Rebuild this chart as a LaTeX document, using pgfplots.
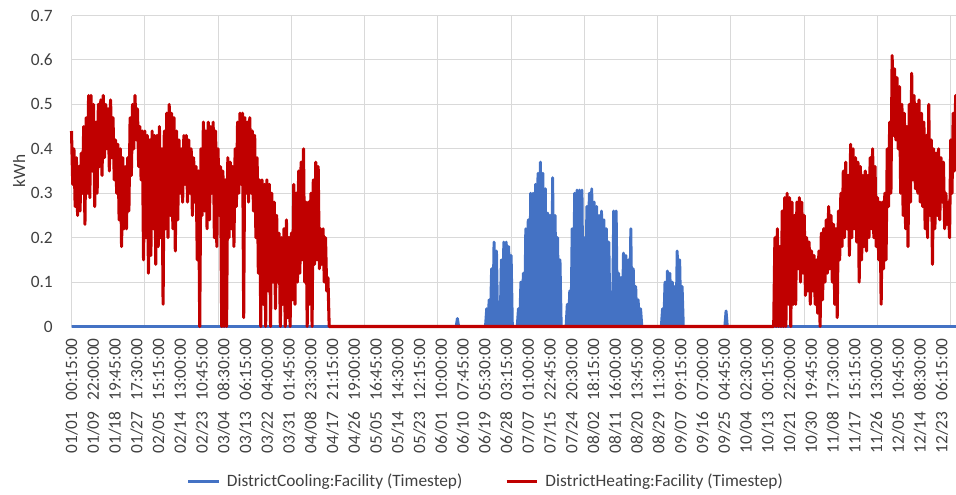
\documentclass[border=0pt]{standalone}
\usepackage{fontspec}
\setmainfont{Carlito}
\usepackage{pgfplots}
\pgfplotsset{compat=1.18}
\definecolor{cool}{HTML}{4472C4}
\definecolor{heat}{HTML}{C00000}
\definecolor{gridc}{HTML}{D9D9D9}
\definecolor{txt}{HTML}{404040}
\newcommand{\gp}{\hspace{0.65em}}
\begin{document}
\begin{tikzpicture}
\useasboundingbox (0,0) rectangle (717pt,370.5pt);
\begin{axis}[
  at={(53.625pt,125.625pt)}, anchor=south west,
  scale only axis, width=668.6pt, height=233.25pt,
  xmin=0, xmax=365, ymin=0, ymax=0.7,
  clip=false,
  axis line style={draw=none},
  major tick length=0pt,
  ytick={0,0.1,0.2,0.3,0.4,0.5,0.6,0.7},
  yticklabels={0,0.1,0.2,0.3,0.4,0.5,0.6,0.7},
  ymajorgrids,
  major grid style={gridc, line width=0.75pt},
  xtick={0.010,8.917,17.823,26.729,35.635,44.542,53.448,62.354,71.260,80.167,89.073,97.979,106.885,115.792,124.698,133.604,142.510,151.417,160.323,169.229,178.135,187.042,195.948,204.854,213.760,222.667,231.573,240.479,249.385,258.292,267.198,276.104,285.010,293.917,302.823,311.729,320.635,329.542,338.448,347.354,356.260},
  xticklabels={01/01\gp00:15:00,01/09\gp22:00:00,01/18\gp19:45:00,01/27\gp17:30:00,02/05\gp15:15:00,02/14\gp13:00:00,02/23\gp10:45:00,03/04\gp08:30:00,03/13\gp06:15:00,03/22\gp04:00:00,03/31\gp01:45:00,04/08\gp23:30:00,04/17\gp21:15:00,04/26\gp19:00:00,05/05\gp16:45:00,05/14\gp14:30:00,05/23\gp12:15:00,06/01\gp10:00:00,06/10\gp07:45:00,06/19\gp05:30:00,06/28\gp03:15:00,07/07\gp01:00:00,07/15\gp22:45:00,07/24\gp20:30:00,08/02\gp18:15:00,08/11\gp16:00:00,08/20\gp13:45:00,08/29\gp11:30:00,09/07\gp09:15:00,09/16\gp07:00:00,09/25\gp04:45:00,10/04\gp02:30:00,10/13\gp00:15:00,10/21\gp22:00:00,10/30\gp19:45:00,11/08\gp17:30:00,11/17\gp15:15:00,11/26\gp13:00:00,12/05\gp10:45:00,12/14\gp08:30:00,12/23\gp06:15:00},
  extra x ticks={0,30,60,90,120,150,180,210,240,270,300,330,360},
  extra x tick labels={},
  extra x tick style={grid=major},
  tick label style={font=\fontsize{13}{15}\selectfont, text=txt},
  xticklabel style={rotate=90, anchor=east, inner sep=0pt},
  xticklabel shift=8.6pt,
  yticklabel style={anchor=east, inner sep=0pt, xshift=-13.9pt},
  ylabel={kWh},
  ylabel style={at={(axis description cs:-0.0589,0.5)}, anchor=center, font=\fontsize{13}{15}\selectfont, text=txt},
  legend columns=2,
  legend style={at={(axis description cs:0.465,-0.497)}, anchor=center, draw=none, fill=none,
    font=\fontsize{13}{15}\selectfont, text=txt,
    /tikz/every odd column/.append style={column sep=3pt},
    /tikz/every even column/.append style={column sep=30pt}},
  legend image code/.code={\draw[#1] (0pt,0pt) -- (23pt,0pt);},
]
\addplot[cool, line width=2.2pt, line join=round] table[row sep=\\] {x y\\
0 0\\157.5 0\\158 0.018\\158.5 0\\169.5 0\\
170 0.04\\170.5 0\\171 0.06\\171.5 0\\172 0.13\\172.5 0\\173 0.19\\173.5 0\\174 0.17\\174.5 0\\175 0.05\\175.5 0\\176 0.15\\176.5 0\\177 0.19\\177.5 0\\178 0.19\\178.5 0\\179 0.18\\179.5 0\\180 0.16\\180.5 0\\
182.5 0\\183 0.04\\183.5 0\\184 0.10\\184.5 0\\185 0.12\\185.5 0\\186 0.22\\186.5 0\\187 0.24\\187.5 0\\188 0.30\\188.5 0\\189 0.30\\189.5 0\\190 0.32\\190.5 0\\191 0.345\\191.5 0\\192 0.37\\192.5 0\\193 0.345\\193.5 0\\194 0.31\\194.5 0\\195 0.255\\195.5 0\\196 0.25\\196.5 0\\197 0.335\\197.5 0\\198 0.25\\198.5 0\\199 0.20\\199.5 0\\200 0.15\\200.5 0\\
202.5 0\\203 0.05\\203.5 0\\204 0.08\\204.5 0\\205 0.22\\205.5 0\\206 0.30\\206.5 0\\207 0.307\\207.5 0\\208 0.307\\208.5 0\\209 0.307\\209.5 0\\210 0.20\\210.5 0\\211 0.27\\211.5 0\\212 0.30\\212.5 0\\213 0.31\\213.5 0\\214 0.28\\214.5 0\\215 0.27\\215.5 0\\216 0.25\\216.5 0\\217 0.26\\217.5 0\\218 0.24\\218.5 0\\219 0.22\\219.5 0\\220 0.19\\220.5 0\\
221.5 0\\222 0.26\\222.5 0\\223 0.26\\223.5 0\\224 0.12\\224.5 0\\225 0.11\\225.5 0\\226 0.165\\226.5 0\\227 0.16\\227.5 0\\228 0.15\\228.5 0\\229 0.22\\229.5 0\\230 0.13\\230.5 0\\231 0.09\\231.5 0\\232 0.06\\232.5 0\\233 0.04\\233.5 0\\
241.5 0\\242 0.04\\242.5 0\\243 0.10\\243.5 0\\244 0.125\\244.5 0\\245 0.12\\245.5 0\\246 0.10\\246.5 0\\247 0.09\\247.5 0\\248 0.17\\248.5 0\\249 0.15\\249.5 0\\250 0.09\\250.5 0\\
267.5 0\\268 0.035\\268.5 0\\365 0\\
};
\addlegendentry{DistrictCooling:Facility (Timestep)}
\addplot[heat, line width=2.3pt, line join=round] table[row sep=\\] {x y\\
0 0.44\\0.5 0.32\\1 0.40\\1.5 0.27\\2 0.38\\2.5 0.25\\3 0.36\\3.5 0.26\\4 0.39\\4.5 0.30\\5 0.45\\5.5 0.23\\6 0.47\\6.5 0.30\\7 0.52\\7.5 0.29\\8 0.52\\8.5 0.35\\9 0.50\\9.5 0.27\\
10 0.46\\10.5 0.30\\11 0.50\\11.5 0.36\\12 0.51\\12.5 0.34\\13 0.52\\13.5 0.38\\14 0.50\\14.5 0.40\\15 0.49\\15.5 0.35\\16 0.51\\16.5 0.38\\17 0.47\\17.5 0.33\\18 0.42\\18.5 0.30\\19 0.41\\19.5 0.24\\
20 0.40\\20.5 0.18\\21 0.38\\21.5 0.22\\22 0.36\\22.5 0.22\\23 0.38\\23.5 0.26\\24 0.47\\24.5 0.34\\25 0.50\\25.5 0.40\\26 0.52\\26.5 0.42\\27 0.49\\27.5 0.36\\28 0.45\\28.5 0.33\\29 0.44\\29.5 0.15\\
30 0.44\\30.5 0.20\\31 0.43\\31.5 0.12\\32 0.42\\32.5 0.16\\33 0.44\\33.5 0.22\\34 0.43\\34.5 0.14\\35 0.43\\35.5 0.18\\36 0.45\\36.5 0.20\\37 0.40\\37.5 0.05\\38 0.44\\38.5 0.22\\39 0.48\\39.5 0.20\\
40 0.50\\40.5 0.25\\41 0.48\\41.5 0.22\\42 0.47\\42.5 0.17\\43 0.44\\43.5 0.24\\44 0.42\\44.5 0.30\\45 0.40\\45.5 0.28\\46 0.43\\46.5 0.32\\47 0.43\\47.5 0.28\\48 0.42\\48.5 0.30\\49 0.40\\49.5 0.25\\
50 0.38\\50.5 0.28\\51 0.36\\51.5 0.15\\52 0.35\\52.5 0\\53 0.40\\53.5 0.25\\54 0.46\\54.5 0.26\\55 0.44\\55.5 0.22\\56 0.46\\56.5 0.24\\57 0.45\\57.5 0.30\\58 0.46\\58.5 0.20\\59 0.44\\59.5 0.18\\
60 0.40\\60.5 0.25\\61 0.36\\61.5 0\\62 0.35\\62.5 0\\63 0.33\\63.5 0\\64 0.38\\64.5 0.20\\65 0.37\\65.5 0.22\\66 0.36\\66.5 0.18\\67 0.40\\67.5 0.27\\68 0.46\\68.5 0.30\\69 0.48\\69.5 0.32\\
70 0.48\\70.5 0.02\\71 0.47\\71.5 0.30\\72 0.46\\72.5 0.28\\73 0.47\\73.5 0.30\\74 0.44\\74.5 0.26\\75 0.43\\75.5 0.20\\76 0.38\\76.5 0.12\\77 0.33\\77.5 0\\78 0.33\\78.5 0.05\\79 0.32\\79.5 0\\
80 0.33\\80.5 0.08\\81 0.32\\81.5 0\\82 0.30\\82.5 0.10\\83 0.28\\83.5 0.04\\84 0.25\\84.5 0.10\\85 0.21\\85.5 0\\86 0.20\\86.5 0.05\\87 0.22\\87.5 0\\88 0.24\\88.5 0.02\\89 0.20\\89.5 0\\
90 0.21\\90.5 0.06\\91 0.32\\91.5 0.05\\92 0.30\\92.5 0.10\\93 0.35\\93.5 0.12\\94 0.37\\94.5 0.15\\95 0.40\\95.5 0.10\\96 0.28\\96.5 0\\97 0.28\\97.5 0.05\\98 0.30\\98.5 0\\99 0.33\\99.5 0.14\\
100 0.37\\100.5 0.15\\101 0.36\\101.5 0.13\\102 0.22\\102.5 0.14\\103 0.22\\103.5 0.10\\104 0.20\\104.5 0.08\\105 0.11\\105.5 0\\
287.5 0\\
288 0.20\\288.5 0\\289 0.22\\289.5 0\\290 0.18\\290.5 0\\291 0.26\\291.5 0\\292 0.29\\292.5 0\\293 0.30\\293.5 0.05\\294 0.29\\294.5 0\\295 0.28\\295.5 0.05\\296 0.25\\296.5 0.05\\297 0.28\\297.5 0.13\\298 0.29\\298.5 0.10\\299 0.28\\299.5 0.12\\
300 0.25\\300.5 0.07\\301 0.20\\301.5 0.08\\302 0.19\\302.5 0.05\\303 0.17\\303.5 0.08\\304 0.16\\304.5 0.05\\305 0.15\\305.5 0.03\\306 0.17\\306.5 0\\307 0.21\\307.5 0.06\\308 0.22\\308.5 0.10\\309 0.24\\309.5 0.12\\
310 0.27\\310.5 0.13\\311 0.25\\311.5 0.10\\312 0.23\\312.5 0.05\\313 0.22\\313.5 0.02\\314 0.26\\314.5 0.15\\315 0.30\\315.5 0.18\\316 0.35\\316.5 0.20\\317 0.37\\317.5 0.22\\318 0.34\\318.5 0.16\\319 0.41\\319.5 0.20\\
320 0.40\\320.5 0.22\\321 0.38\\321.5 0.19\\322 0.37\\322.5 0.10\\323 0.36\\323.5 0.15\\324 0.34\\324.5 0.18\\325 0.35\\325.5 0.17\\326 0.34\\326.5 0.20\\327 0.38\\327.5 0.22\\328 0.40\\328.5 0.20\\329 0.36\\329.5 0.18\\
330 0.29\\330.5 0.15\\331 0.28\\331.5 0.05\\332 0.28\\332.5 0.13\\333 0.30\\333.5 0.15\\334 0.40\\334.5 0.27\\335 0.46\\335.5 0.30\\336 0.61\\336.5 0.43\\337 0.58\\337.5 0.42\\338 0.56\\338.5 0.40\\339 0.54\\339.5 0.30\\
340 0.50\\340.5 0.25\\341 0.48\\341.5 0.22\\342 0.45\\342.5 0.18\\343 0.50\\343.5 0.28\\344 0.57\\344.5 0.33\\345 0.52\\345.5 0.31\\346 0.50\\346.5 0.30\\347 0.51\\347.5 0.28\\348 0.48\\348.5 0.27\\349 0.46\\349.5 0.22\\
350 0.43\\350.5 0.20\\351 0.50\\351.5 0.25\\352 0.42\\352.5 0.14\\353 0.40\\353.5 0.22\\354 0.39\\354.5 0.25\\355 0.40\\355.5 0.24\\356 0.38\\356.5 0.28\\357 0.37\\357.5 0.22\\358 0.30\\358.5 0.23\\359 0.28\\359.5 0.20\\
360 0.42\\360.5 0.30\\361 0.48\\361.5 0.35\\362 0.52\\362.5 0.38\\363 0.50\\363.5 0.35\\364 0.48\\364.5 0.35\\365 0.45\\
};
\addlegendentry{DistrictHeating:Facility (Timestep)}
\end{axis}
\end{tikzpicture}
\end{document}
